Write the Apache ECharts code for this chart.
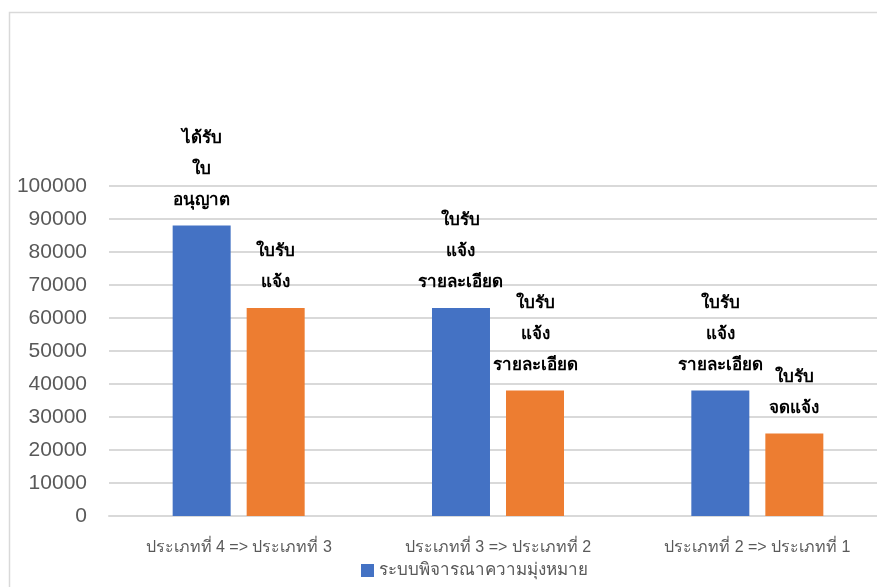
<!DOCTYPE html>
<html>
<head>
<meta charset="utf-8">
<script src="https://cdn.jsdelivr.net/npm/echarts@6/dist/echarts.min.js"></script>
<style>
  html, body { margin: 0; padding: 0; background: #fff; overflow: hidden; }
  #chart { width: 900px; height: 587px; }
</style>
</head>
<body>
<div id="chart"></div>
<script>
// Category labels along the x axis
const categories = ['ประเภทที่ 4 => ประเภทที่ 3', 'ประเภทที่ 3 => ประเภทที่ 2', 'ประเภทที่ 2 => ประเภทที่ 1'];
// First series (shown in legend)
const seriesName = 'ระบบพิจารณาความมุ่งหมาย';
const fromValues = [88000, 63000, 38000];
const fromLabels = ['ได้รับ\nใบ\nอนุญาต', 'ใบรับ\nแจ้ง\nรายละเอียด', 'ใบรับ\nแจ้ง\nรายละเอียด'];
// Second series
const toValues = [63000, 38000, 25000];
const toLabels = ['ใบรับ\nแจ้ง', 'ใบรับ\nแจ้ง\nรายละเอียด', 'ใบรับ\nจดแจ้ง'];
// Value axis ticks
const yMin = 0, yMax = 100000, yStep = 10000;

const font = 'Liberation Sans, Arial, sans-serif';
const labelStyle = {
  show: true,
  position: 'top',
  distance: 10,
  color: '#000',
  fontWeight: 'bold',
  fontSize: 17,
  lineHeight: 31,
  fontFamily: font
};

const chart = echarts.init(document.getElementById('chart'), null, { renderer: 'canvas' });
chart.setOption({
  animation: false,
  backgroundColor: '#fff',
  grid: { left: 109, top: 186, width: 778, height: 330, containLabel: false },
  legend: {
    data: [seriesName],
    left: 356,
    top: 557,
    itemWidth: 13,
    itemHeight: 13,
    itemGap: 6,
    icon: 'rect',
    textStyle: { color: '#595959', fontSize: 17, fontFamily: font }
  },
  xAxis: {
    type: 'category',
    data: categories,
    axisLine: { show: true, lineStyle: { color: '#d9d9d9', width: 2 } },
    axisTick: { show: false },
    axisLabel: { color: '#595959', fontSize: 16, margin: 24, fontFamily: font }
  },
  yAxis: {
    type: 'value',
    min: yMin,
    max: yMax,
    interval: yStep,
    axisLine: { show: false },
    axisTick: { show: false },
    splitLine: { lineStyle: { color: '#d9d9d9', width: 2 } },
    axisLabel: { color: '#595959', fontSize: 21, margin: 22, fontFamily: font, formatter: (v) => String(v) }
  },
  series: [
    {
      name: seriesName,
      type: 'bar',
      data: fromValues.map((v, i) => ({ value: v, label: { formatter: fromLabels[i] } })),
      itemStyle: { color: '#4472c4' },
      barWidth: 58,
      barGap: '27.6%',
      label: labelStyle
    },
    {
      name: 'to',
      type: 'bar',
      data: toValues.map((v, i) => ({ value: v, label: { formatter: toLabels[i] } })),
      itemStyle: { color: '#ed7d31' },
      barWidth: 58,
      label: labelStyle
    }
  ],
  graphic: [
    {
      type: 'rect',
      shape: { x: 9.5, y: 12.5, width: 900, height: 600 },
      style: { fill: 'none', stroke: '#d9d9d9', lineWidth: 1.5 },
      silent: true
    }
  ]
});
</script>
</body>
</html>
